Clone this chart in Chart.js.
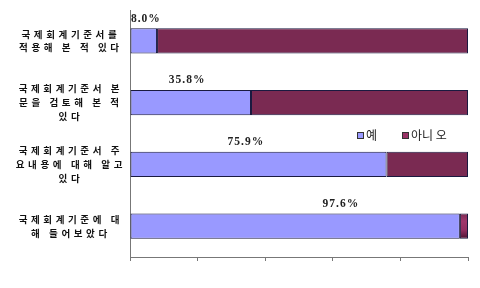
<!DOCTYPE html>
<html>
<head>
<meta charset="utf-8">
<script src="https://cdn.jsdelivr.net/npm/chart.js@4"></script>
<style>
  html, body { margin: 0; padding: 0; background: #fff; }
  #wrap { width: 480px; height: 288px; }
</style>
</head>
<body>
<div id="wrap"><canvas id="surveyChart" width="480" height="288"></canvas></div>
<script>
// survey categories (multi-line labels)
var categories = [
    ['국제회계기준서를', '적용해 본 적 있다'],
    ['국제회계기준서 본', '문을 검토해 본 적', '있다'],
    ['국제회계기준서 주', '요내용에 대해 알고', '있다'],
    ['국제회계기준에 대', '해 들어보았다']
];
var yesValues = [8.0, 35.8, 75.9, 97.6];
var noValues = [92.0, 64.2, 24.1, 2.4];
var valueLabels = ['8.0%', '35.8%', '75.9%', '97.6%'];
// where each value label sits along the x axis (axis units)
var labelAnchors = [4.7, 16.9, 34.3, 62.4];
var seriesNames = ['예', '아니 오'];
var xTicks = [0, 20, 40, 60, 80, 100];

var blue = '#9999ff';
var maroon = '#993366';

// maroon bars get a vertical shade like the original
var shadePlugin = {
    id: 'shade',
    beforeDatasetsDraw: function (chart) {
        var ctx = chart.ctx;
        chart.getDatasetMeta(1).data.forEach(function (bar) {
            var top = bar.y - bar.height / 2;
            var bottom = bar.y + bar.height / 2;
            var g = ctx.createLinearGradient(0, top, 0, bottom);
            g.addColorStop(0, '#7a2a52');
            g.addColorStop(0.3, '#a0376c');
            g.addColorStop(0.65, '#932f62');
            g.addColorStop(1, '#4d1433');
            bar.options.backgroundColor = g;
        });
    }
};

var labelPlugin = {
    id: 'valueLabels',
    beforeDraw: function (chart) {
        chart.ctx.letterSpacing = '3.6px';
    },
    afterDatasetsDraw: function (chart) {
        var ctx = chart.ctx;
        var xScale = chart.scales.x;
        ctx.save();
        ctx.letterSpacing = '1px';
        ctx.font = 'bold 11.5px "Liberation Serif"';
        ctx.fillStyle = '#222';
        ctx.textAlign = 'center';
        ctx.textBaseline = 'bottom';
        chart.getDatasetMeta(0).data.forEach(function (bar, i) {
            var x = xScale.getPixelForValue(labelAnchors[i]);
            ctx.fillText(valueLabels[i], x, bar.y - bar.height / 2 - 4);
        });
        ctx.restore();
    },
    afterDraw: function (chart) {
        // legend drawn by hand inside the plot
        var ctx = chart.ctx;
        var colors = [blue, maroon];
        var xs = [357, 402];
        ctx.save();
        ctx.letterSpacing = '0px';
        ctx.font = '12px "Noto Sans CJK KR"';
        ctx.textBaseline = 'middle';
        ctx.textAlign = 'left';
        seriesNames.forEach(function (name, i) {
            ctx.fillStyle = colors[i];
            ctx.fillRect(xs[i], 132, 7, 7);
            ctx.strokeStyle = '#333';
            ctx.lineWidth = 1;
            ctx.strokeRect(xs[i] + 0.5, 132.5, 6, 6);
            ctx.fillStyle = '#222';
            ctx.fillText(name, xs[i] + 9, 135);
        });
        ctx.restore();
    }
};

var ctx = document.getElementById('surveyChart').getContext('2d');
var chart = new Chart(ctx, {
    type: 'bar',
    data: {
        labels: categories,
        datasets: [{
            label: seriesNames[0],
            data: yesValues,
            backgroundColor: blue,
            borderColor: '#1a1a40',
            borderWidth: 1,
            borderSkipped: false
        }, {
            label: seriesNames[1],
            data: noValues,
            backgroundColor: maroon,
            borderColor: '#1a1a40',
            borderWidth: 1,
            borderSkipped: false
        }]
    },
    options: {
        indexAxis: 'y',
        responsive: false,
        animation: false,
        devicePixelRatio: 1,
        barPercentage: 0.405,
        categoryPercentage: 1,
        layout: { padding: { top: 10, right: 12, left: 0, bottom: 0 } },
        plugins: {
            legend: { display: false },
            tooltip: { enabled: false }
        },
        scales: {
            x: {
                stacked: true,
                min: 0,
                max: 100,
                afterBuildTicks: function (scale) {
                    scale.ticks = xTicks.map(function (v) { return { value: v }; });
                },
                afterFit: function (scale) { scale.height = 31; },
                ticks: { display: false },
                grid: {
                    drawOnChartArea: false,
                    drawTicks: true,
                    tickLength: 4,
                    color: '#777'
                },
                border: { display: true, color: '#777' }
            },
            y: {
                stacked: true,
                afterFit: function (scale) {
                    scale.width = 130;
                    scale.paddingTop = 0;
                    scale.paddingBottom = 0;
                },
                grid: { display: false },
                border: { display: true, color: '#777' },
                ticks: {
                    crossAlign: 'center',
                    padding: 14,
                    color: '#111',
                    font: { family: '"Noto Sans CJK KR"', size: 9.5, weight: 'bold', lineHeight: 1.45 }
                }
            }
        }
    },
    plugins: [shadePlugin, labelPlugin]
});
</script>
</body>
</html>
